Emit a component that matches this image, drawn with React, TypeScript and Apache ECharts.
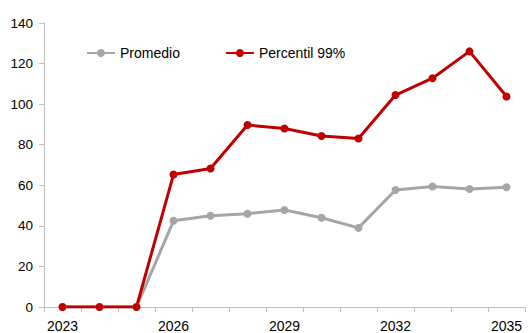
import React, { useEffect, useRef } from "react";
import * as echarts from "echarts";

const years = ["2023", "2024", "2025", "2026", "2027", "2028", "2029", "2030", "2031", "2032", "2033", "2034", "2035"];
const promedio = [0, 0, 0, 42.5, 45, 46, 47.8, 44, 39, 57.7, 59.4, 58.2, 59];
const percentil99 = [0, 0, 0, 65.3, 68.3, 89.7, 88, 84.3, 83.1, 104.5, 112.8, 126, 103.8];

export default function App() {
  const ref = useRef<HTMLDivElement>(null);
  useEffect(() => {
    const chart = echarts.init(ref.current!, null, { renderer: "svg" });
    const font = "'Liberation Sans', Arial, sans-serif";
    chart.setOption({
      animation: false,
      textStyle: { fontFamily: font },
      grid: { left: 44, right: 6, top: 23, bottom: 26 },
      legend: {
        left: 86,
        top: 46,
        padding: 0,
        itemWidth: 28,
        itemHeight: 10,
        itemGap: 45,
        textStyle: { fontSize: 14, color: "#000", fontFamily: font },
        data: ["Promedio", "Percentil 99%"],
      },
      xAxis: {
        type: "category",
        data: years,
        boundaryGap: true,
        axisLine: { lineStyle: { color: "#BFBFBF", width: 1 } },
        axisTick: { show: true, interval: 0, length: 5, lineStyle: { color: "#BFBFBF" } },
        axisLabel: { interval: 2, color: "#000", fontSize: 14, margin: 12, fontFamily: font },
      },
      yAxis: {
        type: "value",
        min: 0,
        max: 140,
        interval: 20,
        splitLine: { show: false },
        axisLine: { show: true, lineStyle: { color: "#BFBFBF", width: 1 } },
        axisTick: { show: true, length: 5, lineStyle: { color: "#BFBFBF" } },
        axisLabel: { color: "#000", fontSize: 13.5, margin: 11, fontFamily: font },
      },
      series: [
        {
          name: "Promedio",
          type: "line",
          data: promedio,
          symbol: "circle",
          symbolSize: 8,
          lineStyle: { color: "#A6A6A6", width: 3 },
          itemStyle: { color: "#A6A6A6" },
        },
        {
          name: "Percentil 99%",
          type: "line",
          data: percentil99,
          symbol: "circle",
          symbolSize: 8,
          lineStyle: { color: "#C00000", width: 3 },
          itemStyle: { color: "#C00000" },
        },
      ],
    });
    return () => chart.dispose();
  }, []);
  return <div ref={ref} style={{ width: 531, height: 333, position: "absolute", left: 0, top: 0, background: "#fff" }} />;
}
